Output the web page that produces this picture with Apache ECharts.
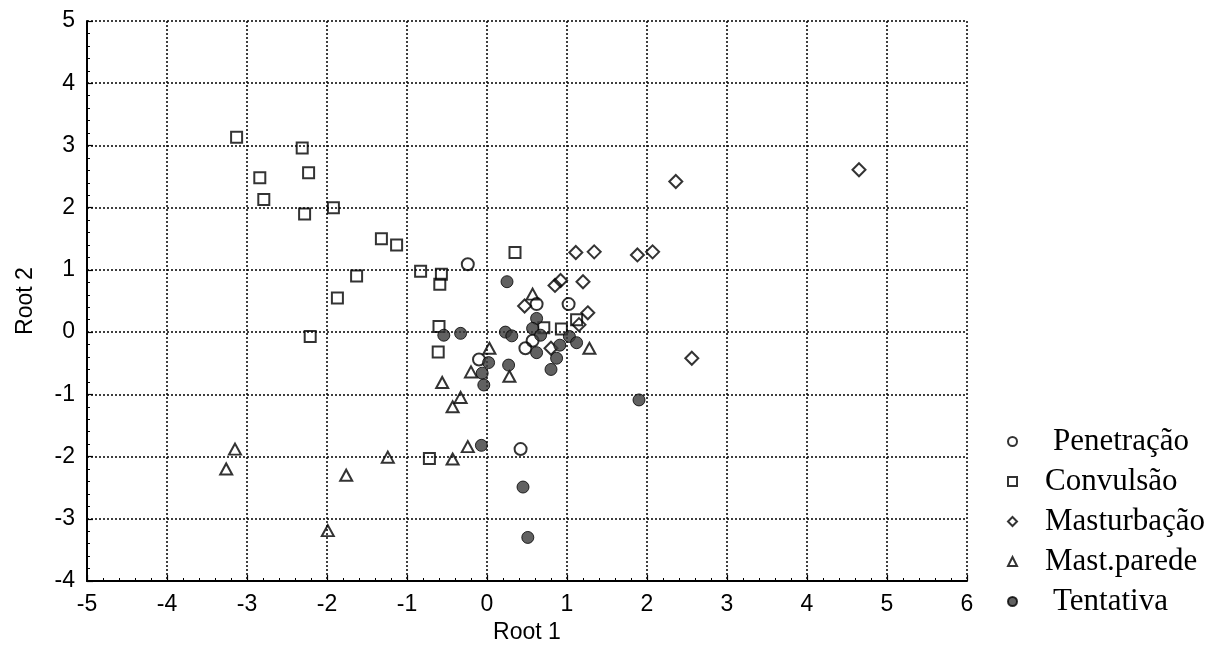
<!DOCTYPE html>
<html>
<head>
<meta charset="utf-8">
<script src="https://cdn.jsdelivr.net/npm/echarts@6/dist/echarts.min.js"></script>
<style>
html,body{margin:0;padding:0;background:#fff;}
#chart{width:1212px;height:665px;}
</style>
</head>
<body>
<div id="chart"></div>
<script>
// Root 1 / Root 2 canonical scores
const penetracao = [[-0.24,1.09],[0.62,0.45],[1.02,0.45],[0.57,-0.14],[0.48,-0.26],[-0.10,-0.44],[0.42,-1.88]];
const convulsao = [[-3.13,3.13],[-2.31,2.96],[-2.23,2.56],[-2.84,2.48],[-2.79,2.13],[-2.28,1.90],[-1.92,2.00],
  [-1.32,1.50],[-1.13,1.40],[-1.63,0.90],[-1.87,0.55],[-0.83,0.98],[-0.57,0.93],[-0.59,0.77],[-2.21,-0.07],
  [-0.60,0.09],[-0.61,-0.32],[0.35,1.28],[0.71,0.07],[0.93,0.05],[1.12,0.20],[-0.72,-2.03]];
const masturbacao = [[2.36,2.42],[4.65,2.61],[1.11,1.28],[1.34,1.29],[1.88,1.24],[2.07,1.29],[0.85,0.75],
  [0.92,0.83],[1.20,0.81],[1.26,0.31],[1.15,0.12],[0.47,0.42],[0.80,-0.26],[2.56,-0.42]];
const mastParede = [[0.57,0.61],[1.28,-0.26],[0.03,-0.26],[-0.20,-0.64],[0.28,-0.71],[-0.56,-0.81],[-0.33,-1.05],
  [-0.43,-1.20],[-3.15,-1.88],[-3.26,-2.20],[-1.76,-2.30],[-1.24,-2.01],[-0.43,-2.04],[-0.24,-1.84],[-1.99,-3.19]];
const tentativa = [[0.25,0.81],[0.62,0.22],[0.57,0.06],[0.67,-0.05],[0.23,0.00],[0.31,-0.06],[-0.54,-0.05],
  [-0.33,-0.02],[0.62,-0.33],[0.91,-0.21],[1.03,-0.07],[1.12,-0.17],[0.87,-0.42],[0.80,-0.60],[0.27,-0.53],
  [0.02,-0.49],[-0.06,-0.66],[-0.04,-0.85],[1.90,-1.09],[-0.07,-1.82],[0.45,-2.49],[0.51,-3.30]];

const seriesNames = ['Penetração','Convulsão','Masturbação','Mast.parede','Tentativa'];
const xTicks = {min:-5, max:6, interval:1};
const yTicks = {min:-4, max:5, interval:1};

const tickFont = {fontFamily:'"Liberation Sans Narrow","Liberation Sans",Arial,sans-serif', fontSize:23, color:'#000'};
const hollow = {color:'rgba(255,255,255,0)', borderColor:'#000', borderWidth:2};
const serif = '"Liberation Serif","Times New Roman",serif';

const chart = echarts.init(document.getElementById('chart'), null, {renderer:'canvas'});
chart.setOption({
  animation:false,
  backgroundColor:'#fff',
  grid:{left:87, top:21, width:880, height:560, containLabel:false},
  xAxis:{
    type:'value', min:xTicks.min, max:xTicks.max, interval:xTicks.interval,
    name:'Root 1', nameLocation:'middle', nameGap:40,
    nameTextStyle:tickFont,
    axisLine:{show:true, onZero:false, lineStyle:{color:'#000', width:2}},
    axisTick:{show:true, inside:true, length:6, lineStyle:{color:'#000', width:1.2}},
    minorTick:{show:true, splitNumber:5, length:3, lineStyle:{color:'#000', width:1}},
    axisLabel:Object.assign({margin:12}, tickFont),
    splitLine:{show:true, lineStyle:{color:'#000', type:[2,2], width:1.5}}
  },
  yAxis:{
    type:'value', min:yTicks.min, max:yTicks.max, interval:yTicks.interval,
    name:'Root 2', nameLocation:'middle', nameGap:50,
    nameTextStyle:tickFont,
    axisLine:{show:true, onZero:false, lineStyle:{color:'#000', width:2}},
    axisTick:{show:true, inside:true, length:6, lineStyle:{color:'#000', width:1.2}},
    minorTick:{show:true, splitNumber:5, length:3, lineStyle:{color:'#000', width:1}},
    axisLabel:Object.assign({margin:12}, tickFont),
    splitLine:{show:true, lineStyle:{color:'#000', type:[2,2], width:1.5}}
  },
  legend:{
    orient:'vertical', left:1002, top:421,
    itemWidth:9, itemHeight:9, itemGap:9,
    textStyle:{fontFamily:serif, fontSize:31, color:'#000',
      rich:{
        w:{fontFamily:serif, fontSize:31, color:'#000', padding:[0,0,0,31]},
        n:{fontFamily:serif, fontSize:31, color:'#000', padding:[0,0,0,23]}
      }},
    formatter:function(n){ return (n==='Penetração'||n==='Tentativa') ? '{w|'+n+'}' : '{n|'+n+'}'; },
    data:seriesNames
  },
  series:[
    {name:seriesNames[0], type:'scatter', symbol:'circle', symbolSize:12, data:penetracao, itemStyle:hollow},
    {name:seriesNames[1], type:'scatter', symbol:'rect', symbolSize:11, data:convulsao, itemStyle:hollow},
    {name:seriesNames[2], type:'scatter', symbol:'diamond', symbolSize:[13,13], data:masturbacao, itemStyle:hollow},
    {name:seriesNames[3], type:'scatter', symbol:'triangle', symbolSize:[12,11], data:mastParede, itemStyle:hollow},
    {name:seriesNames[4], type:'scatter', symbol:'circle', symbolSize:12, data:tentativa,
      itemStyle:{color:'#3a3a3a', borderColor:'#000', borderWidth:1}}
  ]
});
</script>
</body>
</html>
